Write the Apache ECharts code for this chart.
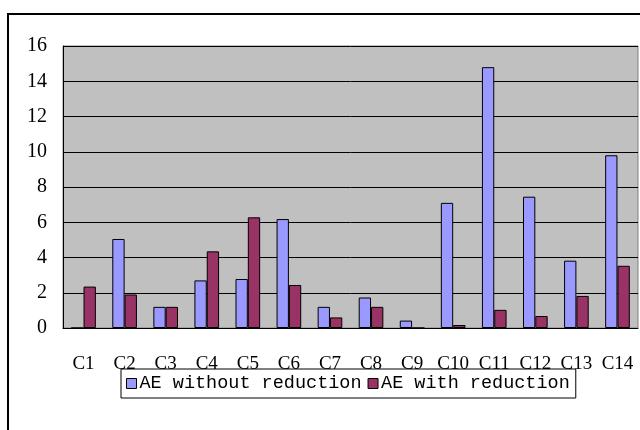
<!DOCTYPE html>
<html>
<head>
<meta charset="utf-8">
<script src="https://cdn.jsdelivr.net/npm/echarts@6/dist/echarts.min.js"></script>
<style>
  html, body { margin: 0; padding: 0; background: #fff; }
  #chart { width: 640px; height: 430px; }
</style>
</head>
<body>
<div id="chart"></div>
<script>
// Classes C1..C14 and the error for each, without and with reduction
const categories = ['C1', 'C2', 'C3', 'C4', 'C5', 'C6', 'C7', 'C8', 'C9', 'C10', 'C11', 'C12', 'C13', 'C14'];
const aeWithout = [0, 5.05, 1.2, 2.7, 2.78, 6.18, 1.2, 1.73, 0.42, 7.1, 14.8, 7.45, 3.82, 9.8];
const aeWith = [2.35, 1.9, 1.2, 4.35, 6.28, 2.44, 0.6, 1.2, 0, 0.17, 1.03, 0.68, 1.82, 3.53];
const seriesNames = ['AE without reduction', 'AE with reduction'];

const FONT = "'Liberation Serif', 'Times New Roman', serif";
const LEGEND_FONT = "'Liberation Mono', 'Courier New', monospace";
const Y_SIZE = 20;
const X_SIZE = 19;
const LEGEND_SIZE = 18.5;

// Legend geometry, used to centre the boxed legend under the plot area
const ICON = 10, ICON_GAP = 3, ITEM_GAP = 6, PAD_L = 5, PAD_R = 6;
const measure = (() => {
  const ctx = document.createElement('canvas').getContext('2d');
  ctx.font = LEGEND_SIZE + 'px ' + LEGEND_FONT;
  return s => ctx.measureText(s).width;
})();
const legendWidth = PAD_L + PAD_R + ITEM_GAP +
  seriesNames.reduce((w, s) => w + ICON + ICON_GAP + measure(s), 0);
const legendCenter = 348;

const chart = echarts.init(document.getElementById('chart'), null, { renderer: 'canvas' });

chart.setOption({
  animation: false,
  backgroundColor: '#ffffff',
  graphic: [{
    type: 'rect',
    shape: { x: 8, y: 14, width: 700, height: 500 },
    style: { fill: 'none', stroke: '#000', lineWidth: 2 },
    silent: true
  }],
  grid: {
    left: 63, right: 2, top: 46, bottom: 102,
    show: true,
    backgroundColor: '#C0C0C0',
    borderColor: '#808080',
    borderWidth: 1
  },
  legend: {
    data: seriesNames,
    left: Math.round(legendCenter - legendWidth / 2),
    top: 369,
    icon: 'rect',
    itemWidth: ICON,
    itemHeight: ICON,
    itemGap: ITEM_GAP,
    padding: [5, PAD_R, 5, PAD_L],
    borderColor: '#000',
    borderWidth: 1,
    itemStyle: { borderColor: '#000', borderWidth: 1 },
    textStyle: { fontFamily: LEGEND_FONT, fontSize: LEGEND_SIZE, color: '#000', padding: [0, 0, 0, ICON_GAP - 5] }
  },
  xAxis: {
    type: 'category',
    data: categories,
    axisLine: { lineStyle: { color: '#000', width: 1 } },
    axisTick: { inside: true, length: 5, lineStyle: { color: '#000' } },
    axisLabel: { interval: 0, fontFamily: FONT, fontSize: X_SIZE, color: '#000', margin: 27 },
    splitLine: { show: false }
  },
  yAxis: {
    type: 'value',
    min: 0, max: 16, interval: 2,
    axisLine: { show: true, lineStyle: { color: '#000', width: 1 } },
    axisTick: { show: true, inside: true, length: 5, lineStyle: { color: '#000' } },
    axisLabel: { fontFamily: FONT, fontSize: Y_SIZE, color: '#000', margin: 16, padding: [5, 0, 0, 0] },
    splitLine: { show: true, lineStyle: { color: '#000', width: 1 } }
  },
  series: [
    {
      name: seriesNames[0],
      type: 'bar',
      data: aeWithout,
      barGap: '0%',
      barCategoryGap: '40%',
      itemStyle: { color: '#9999FF', borderColor: '#000', borderWidth: 1 }
    },
    {
      name: seriesNames[1],
      type: 'bar',
      data: aeWith,
      barGap: '0%',
      barCategoryGap: '40%',
      itemStyle: { color: '#993366', borderColor: '#000', borderWidth: 1 }
    }
  ]
});
</script>
</body>
</html>
